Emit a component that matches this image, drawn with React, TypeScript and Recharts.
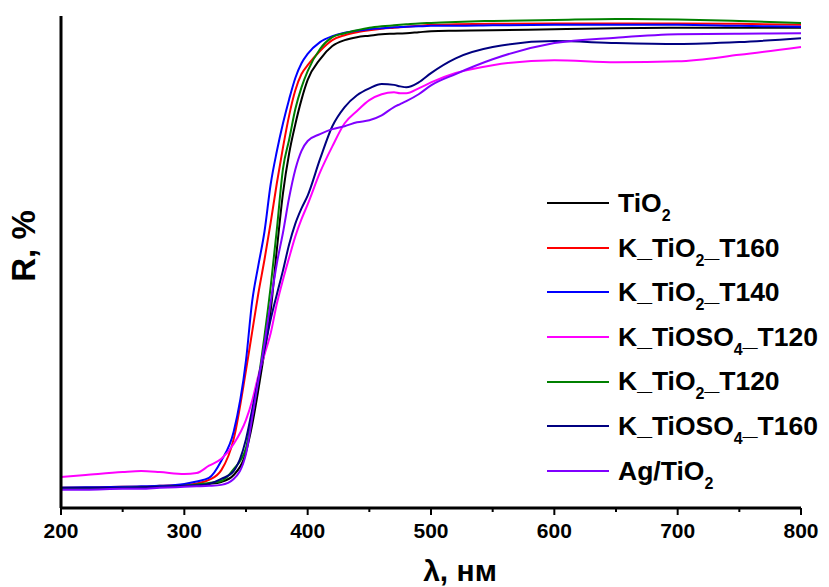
import React from 'react';
import { LineChart, Line, XAxis, YAxis, Legend } from 'recharts';

const wavelength = [200, 220, 250, 265, 280, 300, 310, 320, 330, 340, 350, 355, 360, 365, 370, 375, 380, 385, 390, 395, 400, 410, 420, 430, 440, 450, 460, 470, 475, 480, 490, 500, 520, 550, 600, 650, 700, 750, 800];

const tio2 = [3.9, 3.9, 4.1, 4.1, 4.3, 4.5, 4.7, 4.9, 5.3, 6.7, 11.4, 16.9, 24.0, 31.8, 40.1, 52.5, 64.0, 72.1, 78.0, 83.0, 87.0, 91.2, 93.9, 95.1, 95.7, 96.0, 96.3, 96.4, 96.45, 96.5, 96.7, 96.9, 97.0, 97.1, 97.3, 97.5, 97.6, 97.6, 97.6];
const kTio2T160 = [4.1, 4.1, 4.3, 4.3, 4.5, 4.7, 5.0, 5.7, 7.7, 14.0, 28.0, 35.8, 43.6, 50.5, 58.0, 66.0, 73.3, 79.8, 84.9, 88.2, 90.0, 92.9, 95.1, 96.1, 96.7, 97.1, 97.4, 97.6, 97.7, 97.8, 98.0, 98.2, 98.3, 98.4, 98.5, 98.5, 98.5, 98.4, 98.2];
const kTio2T140 = [4.1, 4.2, 4.3, 4.4, 4.5, 4.9, 5.4, 6.1, 9.6, 15.5, 30.0, 42.0, 49.3, 56.2, 65.8, 72.5, 78.2, 83.1, 87.4, 90.4, 92.3, 94.7, 95.9, 96.6, 97.0, 97.3, 97.5, 97.7, 97.75, 97.8, 97.9, 98.0, 98.0, 98.1, 98.2, 98.2, 98.2, 98.0, 97.8];
const kTiOSO4T120 = [6.3, 6.7, 7.3, 7.5, 7.3, 6.9, 7.1, 8.6, 10.0, 13.0, 17.9, 21.8, 26.9, 31.2, 35.5, 41.5, 46.4, 50.9, 55.2, 58.7, 61.7, 68.2, 73.5, 78.2, 80.7, 82.9, 84.1, 84.5, 84.3, 84.3, 85.3, 86.5, 88.4, 90.0, 91.0, 90.6, 90.8, 92.1, 93.7];
const kTio2T120 = [3.9, 4.0, 4.1, 4.2, 4.3, 4.5, 4.8, 5.1, 5.5, 7.9, 12.2, 19.1, 26.1, 35.0, 45.0, 56.6, 69.0, 74.9, 81.1, 85.5, 88.8, 93.3, 95.7, 96.5, 97.1, 97.6, 97.9, 98.1, 98.2, 98.3, 98.5, 98.6, 98.8, 99.0, 99.2, 99.4, 99.3, 99.0, 98.6];
const kTiOSO4T160 = [4.1, 4.1, 4.1, 4.2, 4.3, 4.5, 4.6, 4.9, 5.9, 7.5, 14.0, 20.0, 26.1, 32.2, 38.3, 43.4, 48.3, 53.6, 57.8, 60.9, 63.5, 70.9, 77.6, 81.5, 83.9, 85.3, 86.2, 86.0, 85.7, 85.5, 86.5, 88.4, 91.4, 93.7, 94.9, 94.5, 94.3, 94.7, 95.5];
const agTio2 = [3.7, 3.7, 3.9, 3.9, 4.1, 4.3, 4.4, 4.5, 4.7, 5.9, 11.0, 18.3, 25.9, 33.4, 41.8, 49.7, 56.0, 63.1, 68.8, 72.6, 74.6, 76.0, 77.0, 77.6, 78.4, 78.8, 79.8, 81.5, 82.1, 82.7, 84.1, 85.9, 88.2, 91.2, 94.5, 95.6, 96.3, 96.4, 96.5];

const seriesNames = ['TiO2', 'K_TiO2_T160', 'K_TiO2_T140', 'K_TiOSO4_T120', 'K_TiO2_T120', 'K_TiOSO4_T160', 'Ag/TiO2'];
const seriesColors = ['#000000', '#ff0000', '#0000ff', '#ff00ff', '#008000', '#000080', '#8000ff'];
const seriesValues = [tio2, kTio2T160, kTio2T140, kTiOSO4T120, kTio2T120, kTiOSO4T160, agTio2];

const xTicks = [200, 250, 300, 350, 400, 450, 500, 550, 600, 650, 700, 750, 800];

const FONT = '"Liberation Sans", Arial, Helvetica, sans-serif';

const data = wavelength.map((w, i) => {
  const row: Record<string, number> = { w };
  seriesValues.forEach((s, j) => {
    row['s' + j] = s[i];
  });
  return row;
});

function renderName(name: string) {
  const parts = name.split(/(?<=O)(\d)/);
  return parts.map((p, i) =>
    i % 2 === 1 ? (
      <span key={i} style={{ fontSize: 16, position: 'relative', top: 9 }}>{p}</span>
    ) : (
      <span key={i}>{p}</span>
    )
  );
}

const LegendBox = () => (
  <div style={{ fontFamily: FONT }}>
    {seriesNames.map((n, i) => (
      <div key={n} style={{ display: 'flex', alignItems: 'center', height: 44.6 }}>
        <div style={{ width: 62, height: 2, background: seriesColors[i] }} />
        <div style={{ marginLeft: 9, fontSize: 26.5, fontWeight: 'bold', lineHeight: 1, color: '#000', whiteSpace: 'nowrap' }}>
          {renderName(n)}
        </div>
      </div>
    ))}
  </div>
);

const XTick = (props: any) => {
  const { x, y, payload } = props;
  const major = payload.value % 100 === 0;
  return (
    <g>
      <line x1={x} x2={x} y1={y} y2={y + (major ? 7 : 4)} stroke="#000" strokeWidth={2} />
      {major && (
        <text x={x} y={y + 30} textAnchor="middle" fontSize={21} fontWeight="bold" fill="#000" fontFamily={FONT}>
          {payload.value}
        </text>
      )}
    </g>
  );
};

const YTitle = () => (
  <text x={35} y={246} transform="rotate(-90, 35, 246)" textAnchor="middle" fontSize={33} fontWeight="bold" fill="#000" fontFamily={FONT}>
    R, %
  </text>
);

const XTitle = () => (
  <text x={460} y={581} textAnchor="middle" fontSize={30} fontWeight="bold" fill="#000" fontFamily={FONT}>
    λ, нм
  </text>
);

export default function App() {
  return (
    <div style={{ position: 'absolute', left: 0, top: 0, width: 829, height: 587, background: '#fff' }}>
      <LineChart width={829} height={587} data={data} margin={{ top: 16, right: 28, left: 0, bottom: 0 }}>
        <XAxis
          dataKey="w"
          type="number"
          domain={[200, 800]}
          ticks={xTicks}
          interval={0}
          height={79}
          tickSize={0}
          tickMargin={0}
          tickLine={false}
          tick={<XTick />}
          axisLine={{ stroke: '#000', strokeWidth: 3 }}
          label={<XTitle />}
        />
        <YAxis
          type="number"
          domain={[0, 100]}
          width={61}
          tick={false}
          tickLine={false}
          axisLine={{ stroke: '#000', strokeWidth: 3 }}
          label={<YTitle />}
        />
        {seriesNames.map((n, j) => (
          <Line
            key={n}
            type="monotone"
            dataKey={'s' + j}
            name={n}
            stroke={seriesColors[j]}
            strokeWidth={2}
            dot={false}
            isAnimationActive={false}
          />
        ))}
        <Legend
          layout="vertical"
          align="center"
          verticalAlign="middle"
          wrapperStyle={{ left: 547, top: 181, width: 290, height: 313 }}
          content={() => <LegendBox />}
        />
      </LineChart>
    </div>
  );
}
